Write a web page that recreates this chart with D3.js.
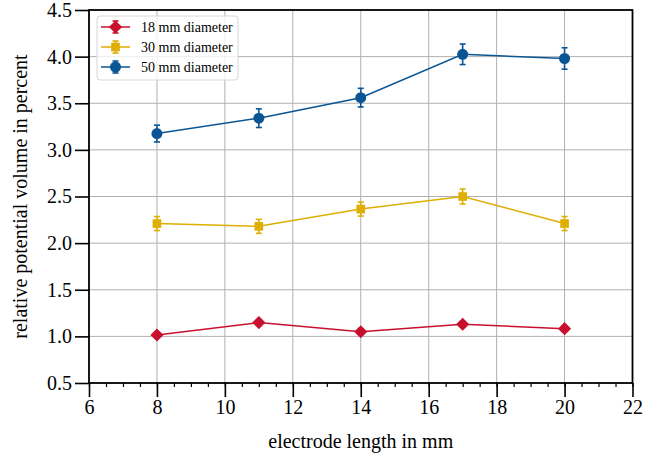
<!DOCTYPE html>
<html>
<head>
<meta charset="utf-8">
<script src="https://cdn.jsdelivr.net/npm/d3@7"></script>
<style>
  html, body { margin: 0; padding: 0; background: #fff; }
</style>
</head>
<body>
<div id="chart"></div>
<script>
// electrode length in mm
const lengths = [8, 11, 14, 17, 20];

// relative potential volume in percent, per diameter
const vol18 = [1.015, 1.148, 1.05, 1.13, 1.083];
const err18 = [0.03, 0.03, 0.03, 0.03, 0.03];
const vol30 = [2.21, 2.18, 2.365, 2.5, 2.21];
const err30 = [0.075, 0.075, 0.075, 0.08, 0.075];
const vol50 = [3.175, 3.34, 3.56, 4.025, 3.98];
const err50 = [0.09, 0.1, 0.1, 0.11, 0.115];

const seriesNames = ["18 mm diameter", "30 mm diameter", "50 mm diameter"];
const seriesColors = ["#c8102e", "#deae00", "#0a5594"];
const seriesSymbols = [d3.symbolDiamond2, d3.symbolSquare2, d3.symbolCircle];

const xTicks = [6, 8, 10, 12, 14, 16, 18, 20, 22];
const yTicks = [0.5, 1.0, 1.5, 2.0, 2.5, 3.0, 3.5, 4.0, 4.5];

const W = 670, H = 457;
const margin = { top: 10, right: 37.5, bottom: 74, left: 89 };
const FONT = "'Times New Roman', 'Liberation Serif', serif";

const svg = d3.select("#chart").append("svg")
  .attr("width", W).attr("height", H);

const x = d3.scaleLinear().domain([6, 22]).range([margin.left, W - margin.right]);
const y = d3.scaleLinear().domain([0.5, 4.5]).range([H - margin.bottom, margin.top]);

// grid
const grid = svg.append("g").attr("stroke", "#b0b0b0").attr("stroke-width", 1);
grid.selectAll(".gx").data(xTicks.slice(1, -1)).enter().append("line")
  .attr("x1", d => x(d)).attr("x2", d => x(d))
  .attr("y1", y(0.5)).attr("y2", y(4.5));
grid.selectAll(".gy").data(yTicks.slice(1, -1)).enter().append("line")
  .attr("x1", x(6)).attr("x2", x(22))
  .attr("y1", d => y(d)).attr("y2", d => y(d));

// frame
svg.append("rect")
  .attr("x", x(6)).attr("y", y(4.5))
  .attr("width", x(22) - x(6)).attr("height", y(0.5) - y(4.5))
  .attr("fill", "none").attr("stroke", "#000").attr("stroke-width", 1.8);

// axes
const xAxis = svg.append("g")
  .attr("transform", `translate(0,${y(0.5)})`)
  .call(d3.axisBottom(x).tickValues(xTicks).tickFormat(d3.format("d")).tickSize(14).tickPadding(3));
const xMinor = svg.append("g")
  .attr("transform", `translate(0,${y(0.5)})`)
  .call(d3.axisBottom(x).tickValues(d3.range(6, 22.01, 0.5)).tickFormat("").tickSize(4));
const yAxis = svg.append("g")
  .attr("transform", `translate(${x(6)},0)`)
  .call(d3.axisLeft(y).tickValues(yTicks).tickFormat(d3.format(".1f")).tickSize(14).tickPadding(3));

[xAxis, xMinor, yAxis].forEach(g => {
  g.select(".domain").remove();
  g.attr("font-family", FONT);
  g.selectAll(".tick line").attr("stroke", "#000").attr("stroke-width", 1.6);
  g.selectAll("text").attr("fill", "#000").attr("font-size", 20);
});
xMinor.selectAll(".tick line").attr("stroke-width", 1.2);

svg.append("text")
  .attr("x", (x(6) + x(22)) / 2).attr("y", 448)
  .attr("text-anchor", "middle").attr("font-size", 20)
  .text("electrode length in mm");

svg.append("text")
  .attr("transform", `translate(27,${(y(0.5) + y(4.5)) / 2}) rotate(-90)`)
  .attr("text-anchor", "middle").attr("font-size", 20)
  .text("relative potential volume in percent");

// series
const series = [
  { name: seriesNames[0], vals: vol18, errs: err18 },
  { name: seriesNames[1], vals: vol30, errs: err30 },
  { name: seriesNames[2], vals: vol50, errs: err50 }
];

const line = d3.line().x(d => x(d.x)).y(d => y(d.v));
const symbolSizes = [110, 95, 95];

series.forEach((s, i) => {
  const pts = lengths.map((l, j) => ({ x: l, v: s.vals[j], e: s.errs[j] }));
  const c = seriesColors[i];
  const g = svg.append("g");
  g.append("path").datum(pts).attr("d", line)
    .attr("fill", "none").attr("stroke", c).attr("stroke-width", 1.5);
  const eb = g.selectAll(".eb").data(pts).enter().append("g").attr("stroke", c).attr("stroke-width", 1.6);
  eb.append("line").attr("x1", d => x(d.x)).attr("x2", d => x(d.x))
    .attr("y1", d => y(d.v - d.e)).attr("y2", d => y(d.v + d.e));
  eb.append("line").attr("x1", d => x(d.x) - 3).attr("x2", d => x(d.x) + 3)
    .attr("y1", d => y(d.v - d.e)).attr("y2", d => y(d.v - d.e));
  eb.append("line").attr("x1", d => x(d.x) - 3).attr("x2", d => x(d.x) + 3)
    .attr("y1", d => y(d.v + d.e)).attr("y2", d => y(d.v + d.e));
  g.selectAll(".pt").data(pts).enter().append("path")
    .attr("d", d3.symbol().type(seriesSymbols[i]).size(symbolSizes[i]))
    .attr("transform", d => `translate(${x(d.x)},${y(d.v)})`)
    .attr("fill", c);
});

// legend
const leg = svg.append("g").attr("transform", "translate(97,16)");
leg.append("rect").attr("width", 141).attr("height", 64).attr("rx", 3)
  .attr("fill", "#fff").attr("fill-opacity", 0.8)
  .attr("stroke", "#d6d6d6").attr("stroke-width", 1);
series.forEach((s, i) => {
  const row = leg.append("g").attr("transform", `translate(0,${11 + i * 20})`);
  const c = seriesColors[i];
  row.append("line").attr("x1", 4).attr("x2", 33).attr("y1", 0).attr("y2", 0)
    .attr("stroke", c).attr("stroke-width", 1.5);
  row.append("line").attr("x1", 18.5).attr("x2", 18.5).attr("y1", -6).attr("y2", 6)
    .attr("stroke", c).attr("stroke-width", 1.6);
  row.append("line").attr("x1", 15.5).attr("x2", 21.5).attr("y1", -6).attr("y2", -6)
    .attr("stroke", c).attr("stroke-width", 1.6);
  row.append("line").attr("x1", 15.5).attr("x2", 21.5).attr("y1", 6).attr("y2", 6)
    .attr("stroke", c).attr("stroke-width", 1.6);
  row.append("path").attr("d", d3.symbol().type(seriesSymbols[i]).size(symbolSizes[i]))
    .attr("transform", "translate(18.5,0)").attr("fill", c);
  row.append("text").attr("x", 44).attr("y", 0).attr("dy", "0.35em")
    .attr("font-size", 14).attr("fill", "#000").text(s.name);
});

svg.selectAll("text").attr("font-family", FONT);
</script>
</body>
</html>
